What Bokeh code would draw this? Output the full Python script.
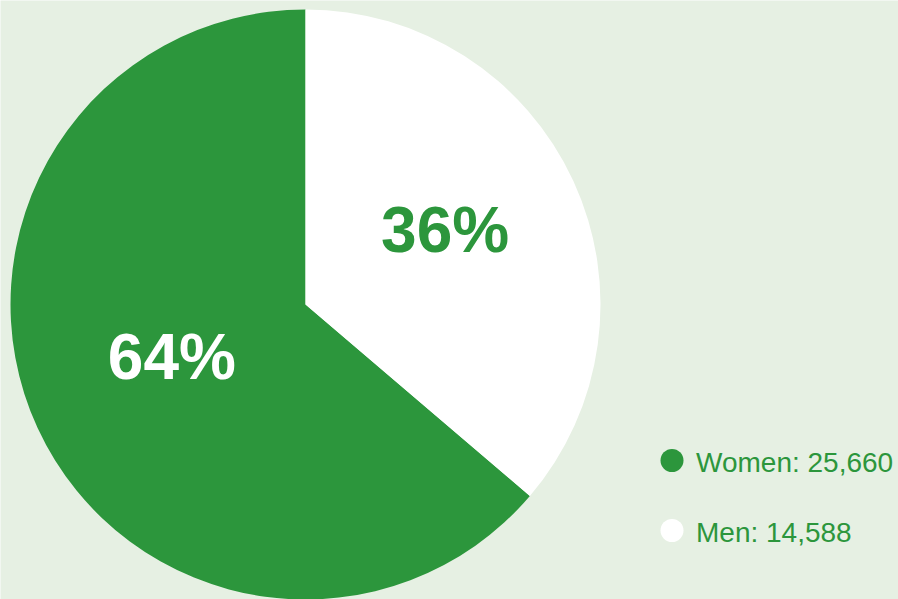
import numpy as np
from bokeh.plotting import figure
from bokeh.models import Range1d, ColumnDataSource
from bokeh.core.properties import value
from bokeh.embed import file_html
from bokeh.resources import INLINE

# ---- data ----
categories = ["Women", "Men"]
counts = [25660, 14588]
colors = ["#2c963c", "#ffffff"]
label_colors = ["#ffffff", "#2c963c"]

BG = "#e6f0e3"
GREEN = "#2c963c"
W, H = 898, 599

counts_arr = np.array(counts, dtype=float)
frac = counts_arr / counts_arr.sum()
angles = frac * 2 * np.pi
start = np.pi / 2 + np.concatenate([[0], np.cumsum(angles)[:-1]])
end = start + angles
mid = (start + end) / 2
pct = [f"{round(f * 100):.0f}%" for f in frac]
legend_text = [f"{c}: {n:,}" for c, n in zip(categories, counts)]

# layout (pixel units == data units)
cx, cy, R = 305, 295, 295
lab_r = 0.51 * R

src = ColumnDataSource(dict(
    start=start, end=end, color=colors,
    lx=cx + lab_r * np.cos(mid), ly=cy + lab_r * np.sin(mid),
    pct=pct, lcol=label_colors,
))

p = figure(width=W, height=H, x_range=Range1d(0, W), y_range=Range1d(0, H),
           output_backend="svg", toolbar_location=None, min_border=0)
p.axis.visible = False
p.grid.visible = False
p.outline_line_color = None
p.background_fill_color = BG
p.border_fill_color = BG

p.wedge(x=cx, y=cy, radius=R, start_angle="start", end_angle="end",
        fill_color="color", line_color=None, source=src)

p.text(x="lx", y="ly", text="pct", text_color="lcol", source=src,
       text_font=value("Liberation Sans"), text_font_style="bold",
       text_font_size="64px", text_align="center", text_baseline="middle",
       x_offset=3, y_offset=-11)

# legend
leg_x, leg_y0, leg_dy = 671.5, 139, 70
leg_y = [leg_y0 - i * leg_dy for i in range(len(categories))]
lsrc = ColumnDataSource(dict(x=[leg_x] * len(categories), y=leg_y,
                             color=colors, text=legend_text,
                             tx=[leg_x + 24] * len(categories)))
p.scatter(x="x", y="y", size=23, marker="circle", fill_color="color",
          line_color=None, source=lsrc)
p.text(x="tx", y="y", text="text", source=lsrc, text_color=GREEN,
       text_font=value("Liberation Sans"), text_font_size="28px",
       text_align="left", text_baseline="middle", y_offset=2)

open("out.html", "w").write(file_html(p, INLINE))
